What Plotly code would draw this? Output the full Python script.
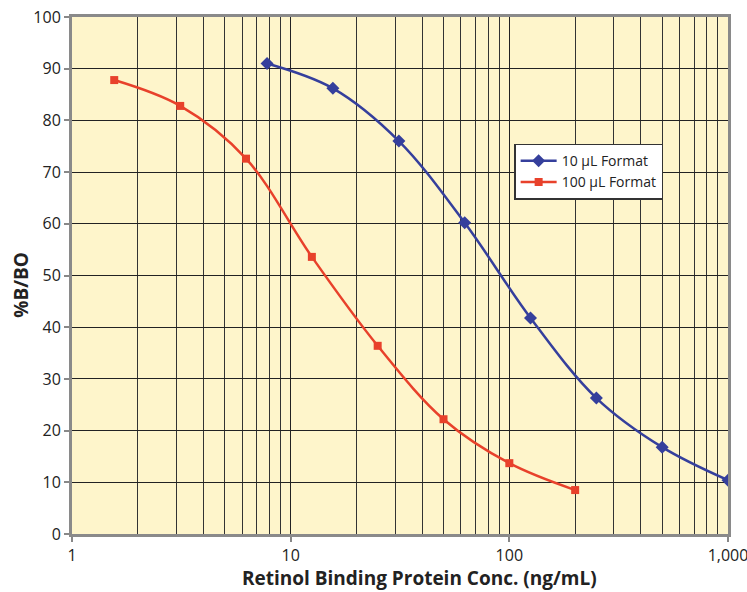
import plotly.graph_objects as go

# Standard curves: concentration (ng/mL) vs %B/B0
conc_10 = [7.8, 15.6, 31.25, 62.5, 125, 250, 500, 1000]
pct_10 = [91.0, 86.2, 76.0, 60.2, 41.8, 26.3, 16.8, 10.4]

conc_100 = [1.56, 3.125, 6.25, 12.5, 25, 50, 100, 200]
pct_100 = [87.8, 82.8, 72.6, 53.6, 36.4, 22.2, 13.7, 8.5]

x_ticks = [1, 10, 100, 1000]
x_labels = ["1", "10", "100", "1,000"]

FONT = "Open Sans"

fig = go.Figure()
fig.add_trace(go.Scatter(
    x=conc_10, y=pct_10, name="10 µL Format", mode="lines+markers",
    line=dict(color="#353F9C", width=2.5, shape="spline", smoothing=1.0),
    marker=dict(symbol="diamond", size=10, color="#353F9C"),
))
fig.add_trace(go.Scatter(
    x=conc_100, y=pct_100, name="100 µL Format", mode="lines+markers",
    line=dict(color="#E8412B", width=2.5, shape="spline", smoothing=1.0),
    marker=dict(symbol="square", size=8, color="#E8412B"),
))

fig.update_layout(
    width=747, height=592,
    margin=dict(l=72, r=19, t=17, b=58),
    paper_bgcolor="white",
    plot_bgcolor="#FEF5CB",
    font=dict(family=FONT, size=16, color="#222"),
    showlegend=True,
    legend=dict(
        x=0.674, y=0.755, xanchor="left", yanchor="top",
        bgcolor="white", bordercolor="#333", borderwidth=1.5,
        font=dict(family=FONT, size=14, color="#222"),
        tracegroupgap=0, itemwidth=36,
    ),
    annotations=[
        dict(text="<b>Retinol Binding Protein Conc. (ng/mL)</b>",
             xref="paper", yref="paper", x=0.529, y=-0.085,
             xanchor="center", yanchor="middle", showarrow=False,
             font=dict(family=FONT, size=19, color="#222")),
        dict(text="<b>%B/BO</b>", textangle=-90,
             xref="paper", yref="paper", x=-0.078, y=0.482,
             xanchor="center", yanchor="middle", showarrow=False,
             font=dict(family=FONT, size=19, color="#222")),
    ],
)

fig.update_xaxes(
    type="log", range=[0, 3], automargin=False, ticklabeloverflow="allow",
    tickvals=x_ticks, ticktext=x_labels,
    ticks="outside", ticklen=5, tickcolor="#888", tickwidth=2,
    tickfont=dict(family=FONT, size=16, color="#222"),
    showgrid=True, gridcolor="#222", gridwidth=1,
    minor=dict(dtick="D1", showgrid=True, gridcolor="#333", gridwidth=1, ticks=""),
    showline=True, linecolor="#8a8a8a", linewidth=3, mirror=True,
    zeroline=False,
)
fig.update_yaxes(
    range=[0, 100], dtick=10, automargin=False, ticklabeloverflow="allow",
    ticks="outside", ticklen=5, tickcolor="#888", tickwidth=2,
    tickfont=dict(family=FONT, size=16, color="#222"),
    showgrid=True, gridcolor="#222", gridwidth=1,
    showline=True, linecolor="#8a8a8a", linewidth=3, mirror=True,
    zeroline=False,
)

fig.write_html("out.html")
